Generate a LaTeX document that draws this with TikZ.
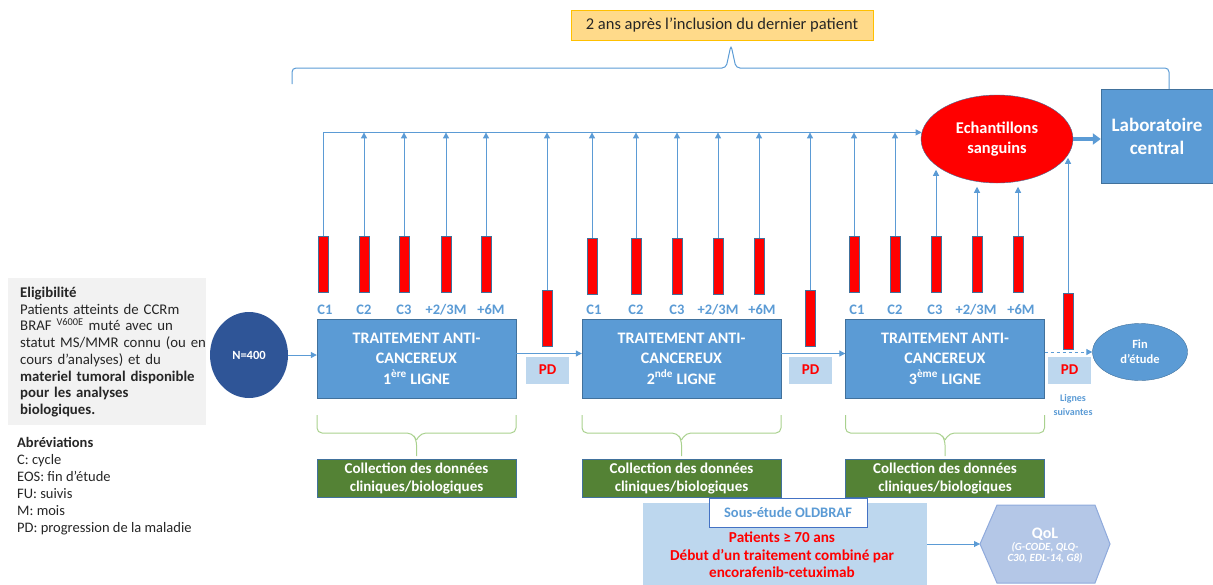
\documentclass[tikz,border=0pt]{standalone}
\usepackage{fontspec}
\setmainfont{Carlito}
\usetikzlibrary{positioning}
\usetikzlibrary{arrows.meta}
\usetikzlibrary{shapes.geometric}
\definecolor{bleu}{HTML}{5B9BD5}
\definecolor{bordbleu}{HTML}{41719C}
\definecolor{bleufonce}{HTML}{2F5597}
\definecolor{bleuclair}{HTML}{BDD7EE}
\definecolor{vert}{HTML}{548235}
\definecolor{vertclair}{HTML}{A9D18E}
\definecolor{orange}{HTML}{FFC000}
\definecolor{orangeclair}{HTML}{FFDA8A}
\definecolor{gris}{HTML}{F2F2F2}
\definecolor{texte}{HTML}{262626}
\definecolor{hexa}{HTML}{B4C7E7}
\definecolor{hexabord}{HTML}{8FAADC}
\definecolor{titrebord}{HTML}{4472C4}
\tikzset{x=1pt, y=-1pt,
    >={Triangle[width=6pt,length=6pt]},
    barre/.style={
        draw=bordbleu,
        line width=0.5pt,
        fill=red,
        minimum width=10pt,
        minimum height=56pt,
        inner sep=0pt},
    clab/.style={
        text=bleu,
        font=\bfseries\fontsize{14.5}{16}\selectfont,
        inner sep=0pt},
    traitement/.style={
        draw=bordbleu,
        fill=bleu,
        text=white,
        align=center,
        font=\bfseries\fontsize{16}{20.5}\selectfont,
        minimum width=199pt,
        minimum height=79pt},
    pdbox/.style={
        fill=bleuclair,
        text=red,
        font=\bfseries\fontsize{15}{17}\selectfont,
        minimum width=43pt,
        minimum height=27pt,
        inner sep=0pt},
    collecte/.style={
        draw=bordbleu,
        fill=vert,
        text=white,
        align=center,
        font=\bfseries\fontsize{15}{18}\selectfont,
        minimum width=199pt,
        minimum height=37pt},
    flow/.style={
        draw=bleu,
        line width=1pt,
        ->},
    accolade/.style={
        draw=bleu,
        line width=1pt,
        rounded corners=4pt},
    gaccolade/.style={
        draw=vertclair,
        line width=1pt,
        rounded corners=5pt}}

\begin{document}
\begin{tikzpicture}
        \useasboundingbox (0,0) rectangle (1213,584);

        % titre et accolade du haut
        \node[draw=orange, fill=orangeclair, text=texte, minimum width=302pt, minimum height=30pt,
            font=\fontsize{16.5}{19}\selectfont] (titre) at (722,25) {2 ans après l’inclusion du dernier patient};
        \draw[accolade] (292,84) |- (726,68) -- (731,45) -- (736,68) -| (1169,89);

        % eligibilite
        \node[fill=gris, minimum width=198pt, minimum height=147pt] (elig) at (107,351.5) {};
        \node[anchor=north west, inner sep=0pt, text=texte, text width=186pt, align=left,
            font=\fontsize{14.8}{16.7}\selectfont] (eligtxt) at (20,287)
            {\textbf{Eligibilité}\\Patients atteints de CCRm\\BRAF \textsuperscript{V600E} muté avec un\\statut MS/MMR connu (ou en\\cours d’analyses) et du\\\textbf{materiel tumoral disponible}\\\textbf{pour les analyses}\\\textbf{biologiques.}};
        \node[anchor=north west, inner sep=0pt, text=texte, align=left,
            font=\fontsize{14.5}{17}\selectfont] (abrev) at (17,437)
            {\textbf{Abréviations}\\C: cycle\\EOS: fin d’étude\\FU: suivis\\M: mois\\PD: progression de la maladie};

        \node[ellipse, fill=bleufonce, text=white, minimum width=78pt, minimum height=86pt,
            font=\bfseries\fontsize{12.5}{14}\selectfont] (n400) at (249,355) {N=400};

        % lignes de traitement
        \node[traitement] (tr1) at (416.5,358.5) {TRAITEMENT ANTI-\\CANCEREUX\\1\textsuperscript{ère} LIGNE};
        \node[traitement] (tr2) at (681.5,358.5) {TRAITEMENT ANTI-\\CANCEREUX\\2\textsuperscript{nde} LIGNE};
        \node[traitement] (tr3) at (945,358.5) {TRAITEMENT ANTI-\\CANCEREUX\\3\textsuperscript{ème} LIGNE};

        \node[pdbox] (pd1) at (547.5,370) {PD};
        \node[pdbox] (pd2) at (810.5,370) {PD};
        \node[pdbox] (pd3) at (1069.5,370) {PD};

        \node[ellipse, fill=bleu, draw=bordbleu, text=white, align=center, minimum width=95pt, minimum height=57pt,
            font=\bfseries\fontsize{12.5}{15}\selectfont] (fin) at (1140,352) {Fin\\d’étude};
        \node[text=bleu, align=center, font=\bfseries\fontsize{10}{14}\selectfont] (suiv) at (1073,405) {Lignes\\suivantes};

        \draw[flow] (n400.east) -- (tr1.west |- n400.east);
        \draw[flow] ([yshift=5pt]tr1.east) -- ([yshift=5pt]tr2.west);
        \draw[flow] ([yshift=5pt]tr2.east) -- ([yshift=5pt]tr3.west);
        \draw[flow, dashed] (tr3.east |- fin.west) -- (fin.west);

        % prelevements
        \node[barre] (b1c1) at (323,264) {};
        \node[barre] (b1c2) at (364,264) {};
        \node[barre] (b1c3) at (404,264) {};
        \node[barre] (b1m3) at (446,264) {};
        \node[barre] (b1m6) at (486,264) {};
        \node[barre] (bpd1) at (547,318) {};

        \node[barre] (b2c1) at (592,266) {};
        \node[barre] (b2c2) at (636,266) {};
        \node[barre] (b2c3) at (677,266) {};
        \node[barre] (b2m3) at (718,266) {};
        \node[barre] (b2m6) at (759,266) {};
        \node[barre] (bpd2) at (810,318) {};

        \node[barre] (b3c1) at (854,264) {};
        \node[barre] (b3c2) at (895,264) {};
        \node[barre] (b3c3) at (936,264) {};
        \node[barre] (b3m3) at (977,264) {};
        \node[barre] (b3m6) at (1018,264) {};
        \node[barre] (bpd3) at (1068,321) {};

        \node[clab] (l1c1) at (325,310) {C1};
        \node[clab] (l1c2) at (364,310) {C2};
        \node[clab] (l1c3) at (404,310) {C3};
        \node[clab] (l1m3) at (446,310) {+2/3M};
        \node[clab] (l1m6) at (491,310) {+6M};

        \node[clab] (l2c1) at (594,310) {C1};
        \node[clab] (l2c2) at (636,310) {C2};
        \node[clab] (l2c3) at (677,310) {C3};
        \node[clab] (l2m3) at (718,310) {+2/3M};
        \node[clab] (l2m6) at (762,310) {+6M};

        \node[clab] (l3c1) at (857,310) {C1};
        \node[clab] (l3c2) at (895,310) {C2};
        \node[clab] (l3c3) at (935,310) {C3};
        \node[clab] (l3m3) at (976,310) {+2/3M};
        \node[clab] (l3m6) at (1021,310) {+6M};

        % echantillons et laboratoire
        \node[ellipse, draw=bordbleu, fill=red, text=white, align=center, minimum width=152pt, minimum height=88pt,
            font=\bfseries\fontsize{16.4}{20}\selectfont] (sang) at (997,139) {Echantillons\\sanguins};
        \node[draw=bordbleu, fill=bleu, text=white, align=center, minimum width=112pt, minimum height=94pt,
            font=\bfseries\fontsize{19}{23}\selectfont] (labo) at (1157,136) {Laboratoire\\central};
        \draw[draw=bleu, line width=4pt, -{Triangle[width=11pt,length=8pt]}] (sang.east) -- (labo.west |- sang.east);

        \draw[flow] (b1c1.north) |- (sang.175);
        \draw[flow] (b1c2.north) -- (b1c2.north |- sang.175);
        \draw[flow] (b1c3.north) -- (b1c3.north |- sang.175);
        \draw[flow] (b1m3.north) -- (b1m3.north |- sang.175);
        \draw[flow] (b1m6.north) -- (b1m6.north |- sang.175);
        \draw[flow] (bpd1.north) -- (bpd1.north |- sang.175);
        \draw[flow] (b2c1.north) -- (b2c1.north |- sang.175);
        \draw[flow] (b2c2.north) -- (b2c2.north |- sang.175);
        \draw[flow] (b2c3.north) -- (b2c3.north |- sang.175);
        \draw[flow] (b2m3.north) -- (b2m3.north |- sang.175);
        \draw[flow] (b2m6.north) -- (b2m6.north |- sang.175);
        \draw[flow] (bpd2.north) -- (bpd2.north |- sang.175);
        \draw[flow] (b3c1.north) -- (b3c1.north |- sang.175);
        \draw[flow] (b3c2.north) -- (b3c2.north |- sang.175);
        \draw[flow] (b3c3.north) -- ++(0,-66);
        \draw[flow] (b3m3.north) -- ++(0,-49);
        \draw[flow] (b3m6.north) -- ++(0,-49);
        \draw[flow] (bpd3.north) -- ++(0,-135);

        % collection des donnees
        \draw[gaccolade] (317,415) |- (412,433) -- (416.5,440) -- (416.5,456);
        \draw[gaccolade] (416.5,440) -- (421,433) -| (516,415);
        \draw[gaccolade] (582,415) |- (677,433) -- (681.5,440) -- (681.5,456);
        \draw[gaccolade] (681.5,440) -- (686,433) -| (781,415);
        \draw[gaccolade] (845.5,415) |- (940.5,433) -- (945,440) -- (945,456);
        \draw[gaccolade] (945,440) -- (949.5,433) -| (1044.5,415);

        \node[collecte] (coll1) at (416.5,478) {Collection des données\\cliniques/biologiques};
        \node[collecte] (coll2) at (681.5,478) {Collection des données\\cliniques/biologiques};
        \node[collecte] (coll3) at (945,478) {Collection des données\\cliniques/biologiques};

        % sous-etude
        \node[fill=bleuclair, minimum width=284pt, minimum height=90pt] (sous) at (785,548) {};
        \node[draw=titrebord, fill=white, text=bleu, minimum width=158pt, minimum height=29pt,
            font=\bfseries\fontsize{14.5}{17}\selectfont] (soustitre) at (788,512.5) {Sous-étude OLDBRAF};
        \node[text=red, align=center, font=\bfseries\fontsize{15.2}{17.5}\selectfont] (oldtxt) at (782,555)
            {Patients ≥ 70 ans\\Début d’un traitement combiné par\\encorafenib-cetuximab};

        \draw[fill=hexa, draw=hexabord, line width=1pt] (980,544) -- (997,505) -- (1095,505) -- (1110,544) -- (1095,583) -- (997,583) -- cycle;
        \coordinate (qolw) at (980,544);
        \node[text=white, align=center, font=\bfseries\itshape\fontsize{11}{11.5}\selectfont] (qol) at (1045,546)
            {{\upshape\fontsize{16}{18}\selectfont QoL}\\(G-CODE, QLQ-\\C30, EDL-14, G8)};
        \draw[flow] (sous.east |- qolw) -- (qolw);
    \end{tikzpicture}
\end{document}
